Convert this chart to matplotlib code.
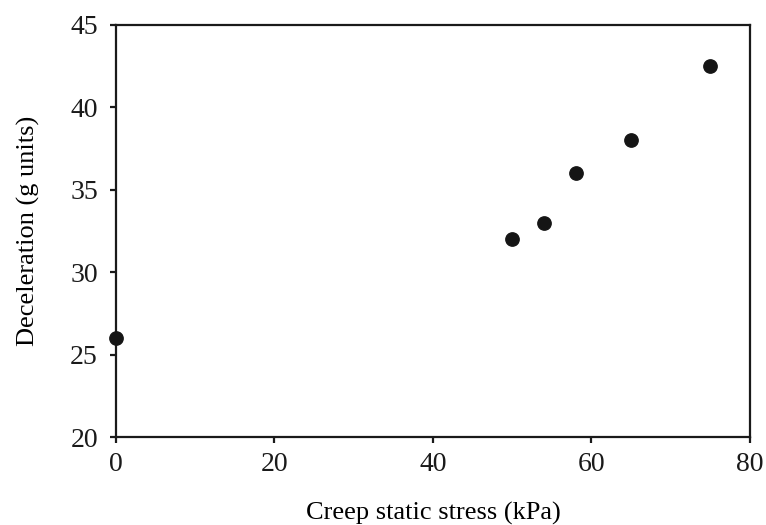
import numpy as np
import matplotlib
matplotlib.use("Agg")
from matplotlib import pyplot as plt

# creep static stress (kPa) vs deceleration (g units)
stress = [0, 50, 54, 58, 65, 75]
decel = [26, 32, 33, 36, 38, 42.5]

xticks = [0, 20, 40, 60, 80]
yticks = [20, 25, 30, 35, 40, 45]

plt.rcParams['font.family'] = ['Liberation Serif', 'DejaVu Serif']

fig = plt.figure(figsize=(7.66, 5.25), dpi=100)
ax = fig.add_axes([0.1514, 0.1676, 0.8276, 0.7848])

ax.plot(stress, decel, "o", color="#151515", markersize=9.6, clip_on=False, zorder=5)

ax.set_xlim(0, 80)
ax.set_ylim(20, 45)
ax.set_xticks(xticks)
ax.set_yticks(yticks)

for s in ax.spines.values():
    s.set_linewidth(1.6)
    s.set_color("#1a1a1a")
ax.tick_params(direction="out", length=4, width=1.6, labelsize=20, colors="#1a1a1a")
ax.tick_params(axis="x", pad=7)
ax.tick_params(axis="y", pad=9)

ax.set_xlabel("Creep static stress (kPa)", fontsize=19, labelpad=18)
ax.set_ylabel("Deceleration (g units)", fontsize=19, labelpad=22)

fig.savefig("out.png", dpi=100)
